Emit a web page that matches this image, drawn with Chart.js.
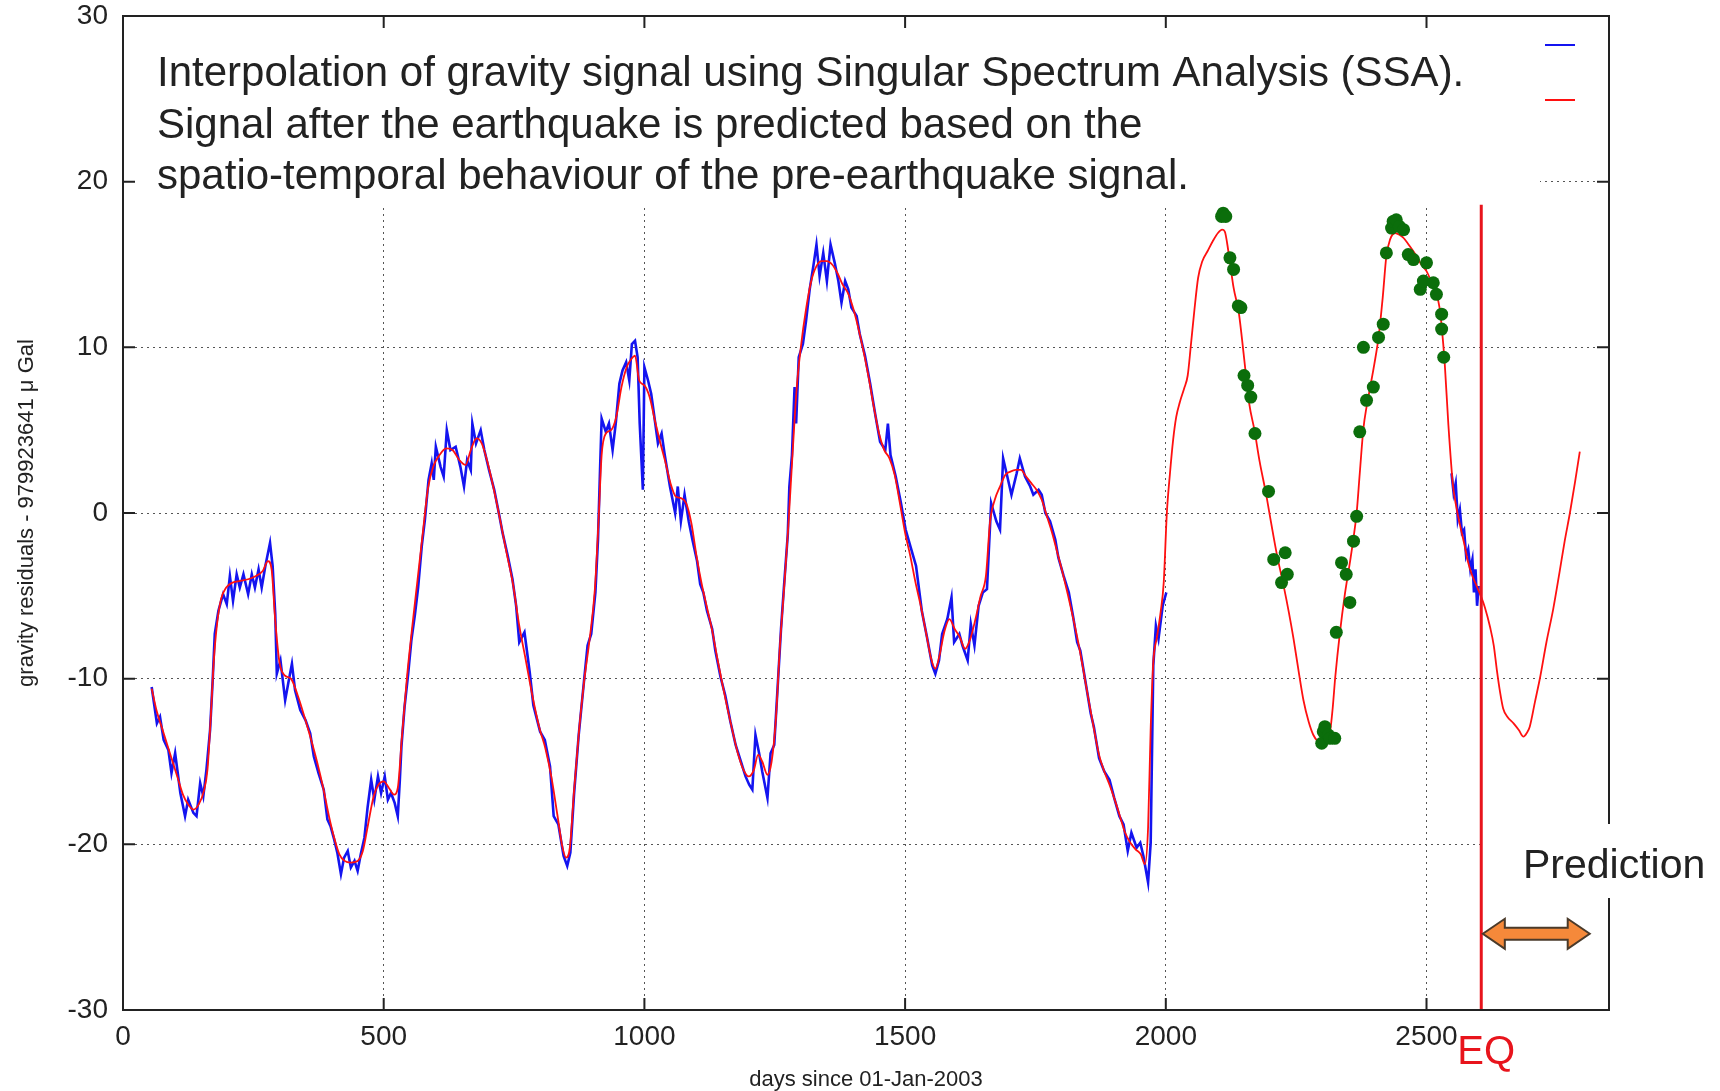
<!DOCTYPE html>
<html>
<head>
<meta charset="utf-8">
<script src="https://cdn.jsdelivr.net/npm/chart.js@4.4.1/dist/chart.umd.min.js"></script>
<style>
  html, body { margin: 0; padding: 0; background: #fff; }
  canvas { display: block; }
</style>
</head>
<body>
<canvas id="chart" width="1720" height="1091"></canvas>
<script>
const xTicks = [0, 500, 1000, 1500, 2000, 2500];
const yTicks = [-30, -20, -10, 0, 10, 20, 30];
// observed gravity residuals [day, value] (blue)
const gravityObs = [
	[55,-10.5],[65,-12.7],[71,-12.3],[78,-13.7],[87,-14.3],[93,-15.7],[100,-14.5],[110,-16.9],[119,-18.3],[125,-17.3],
	[135,-18.1],[141,-18.3],[148,-16.3],[154,-17.1],[160,-15.5],[167,-13.1],[172,-10.1],[176,-7.3],[183,-5.9],[192,-4.9],
	[199,-5.5],[205,-3.8],[211,-5.3],[218,-3.7],[224,-4.5],[231,-3.7],[240,-4.9],[247,-3.7],[253,-4.5],[260,-3.4],
	[266,-4.5],[273,-3.2],[282,-1.8],[287,-3.2],[292,-6.1],[295,-9.7],[302,-8.9],[311,-11.3],[318,-10.1],[324,-9.1],
	[330,-10.7],[340,-11.9],[350,-12.5],[359,-13.3],[366,-14.7],[375,-15.7],[385,-16.7],[392,-18.5],[398,-18.9],[405,-19.7],
	[411,-20.5],[418,-21.8],[424,-20.8],[431,-20.4],[437,-21.4],[444,-21.0],[450,-21.6],[456,-20.6],[463,-19.6],[469,-17.8],
	[476,-16.1],[482,-17.3],[489,-15.9],[495,-16.9],[502,-15.9],[508,-17.3],[514,-16.9],[521,-17.5],[527,-18.3],[531,-16.1],
	[534,-14.1],[540,-11.7],[547,-9.7],[553,-7.7],[560,-6.1],[566,-4.5],[573,-2.0],[579,-0.4],[586,2.0],[592,3.0],
	[596,2.0],[600,4.0],[609,2.8],[615,2.2],[621,5.0],[628,3.8],[638,4.0],[647,2.8],[654,1.6],[660,3.2],
	[667,2.6],[670,5.4],[677,4.2],[686,5.0],[693,3.8],[702,2.6],[712,1.4],[722,-0.2],[728,-1.2],[738,-2.6],
	[747,-4.0],[754,-5.6],[760,-7.8],[770,-7.2],[780,-9.6],[787,-11.6],[800,-13.2],[809,-13.7],[819,-15.3],[826,-18.3],
	[835,-18.8],[845,-20.7],[852,-21.3],[858,-20.5],[865,-17.0],[874,-13.4],[884,-10.2],[891,-8.0],[898,-7.3],[906,-4.8],
	[911,-1.6],[915,2.7],[918,5.7],[926,4.9],[932,5.4],[939,3.8],[945,5.4],[952,7.8],[958,8.6],[965,9.1],
	[971,8.0],[976,10.2],[982,10.4],[987,9.4],[991,5.4],[997,1.4],[1000,8.8],[1007,8.0],[1013,7.2],[1020,5.6],
	[1026,4.2],[1033,4.8],[1039,3.5],[1049,1.6],[1059,0.0],[1064,1.6],[1070,-0.5],[1077,1.1],[1085,-0.5],[1092,-1.6],
	[1101,-2.9],[1107,-4.3],[1113,-4.8],[1120,-5.9],[1130,-7.0],[1136,-8.3],[1146,-9.9],[1155,-11.0],[1165,-12.6],[1175,-14.0],
	[1185,-15.0],[1194,-15.9],[1201,-16.4],[1207,-16.7],[1213,-13.4],[1220,-14.5],[1226,-15.6],[1236,-17.2],[1242,-14.5],[1249,-14.0],
	[1255,-10.8],[1262,-7.0],[1268,-4.3],[1275,-1.3],[1278,1.6],[1283,3.5],[1288,7.6],[1291,5.4],[1296,9.4],[1304,10.2],
	[1310,11.6],[1317,13.5],[1324,14.9],[1330,16.2],[1336,14.3],[1343,15.7],[1350,14.0],[1357,16.2],[1365,15.1],[1372,14.0],
	[1378,12.7],[1385,14.0],[1391,13.5],[1397,12.4],[1407,11.9],[1413,10.8],[1423,9.5],[1433,7.8],[1443,5.9],[1452,4.3],
	[1462,3.8],[1467,5.4],[1472,3.5],[1482,2.2],[1492,0.6],[1501,-1.0],[1511,-2.1],[1521,-3.2],[1532,-5.9],[1542,-7.5],
	[1552,-9.2],[1558,-9.7],[1565,-8.9],[1571,-7.3],[1581,-6.4],[1589,-5.1],[1594,-7.8],[1604,-7.3],[1610,-8.0],[1620,-8.9],
	[1626,-6.7],[1633,-8.0],[1641,-5.6],[1649,-4.8],[1657,-4.6],[1665,0.6],[1675,-0.5],[1682,-1.0],[1688,3.3],[1696,2.2],
	[1704,1.1],[1714,2.4],[1720,3.3],[1730,2.2],[1740,1.6],[1746,1.1],[1756,1.4],[1762,1.1],[1769,0.0],[1778,-0.5],
	[1788,-1.6],[1794,-2.7],[1804,-3.8],[1814,-4.8],[1823,-6.4],[1830,-7.8],[1836,-8.3],[1846,-10.2],[1856,-12.1],[1862,-12.9],
	[1872,-14.8],[1882,-15.6],[1892,-16.1],[1901,-17.2],[1911,-18.3],[1919,-18.8],[1927,-20.4],[1934,-19.3],[1944,-20.2],[1951,-19.9],
	[1957,-20.7],[1966,-22.3],[1971,-19.9],[1976,-9.2],[1981,-6.8],[1986,-7.6],[1994,-5.6],[2001,-4.8]
];
// short observed stretch just before the earthquake
const gravityObsEq = [
	[2548,2.4],[2552,1.2],[2556,1.8],[2560,-0.4],[2564,0.2],[2568,-1.2],[2572,-1.0],[2576,-2.6],
	[2580,-2.2],[2584,-3.4],[2588,-2.8],[2591,-4.8],[2594,-3.4],[2597,-5.6],[2600,-4.4]
];
// SSA reconstruction / prediction (red)
const ssaCurve = [
	[55,-10.6],[65,-12.0],[75,-13.0],[85,-14.0],[95,-15.0],[105,-16.0],[115,-17.0],[125,-17.6],[135,-17.9],[145,-17.6],
	[155,-16.8],[162,-15.5],[168,-12.5],[174,-9.0],[180,-6.8],[188,-5.2],[198,-4.5],[210,-4.2],[225,-4.1],[240,-4.0],
	[255,-3.8],[268,-3.5],[278,-2.9],[285,-3.4],[292,-6.5],[300,-9.0],[310,-9.8],[322,-10.0],[335,-11.0],[348,-12.3],
	[360,-13.6],[372,-15.0],[384,-16.6],[395,-18.3],[405,-19.6],[415,-20.6],[425,-21.0],[437,-21.1],[450,-21.0],[460,-20.4],
	[470,-18.8],[480,-17.2],[490,-16.4],[500,-16.2],[510,-16.6],[520,-17.0],[527,-16.6],[535,-13.5],[545,-9.8],[555,-6.8],
	[565,-4.0],[575,-1.2],[585,1.5],[595,2.8],[607,3.5],[620,3.9],[632,3.8],[645,3.2],[657,2.9],[667,3.8],
	[678,4.5],[688,4.2],[698,3.2],[710,1.6],[722,-0.2],[735,-2.3],[748,-4.3],[760,-6.8],[772,-8.8],[785,-11.0],
	[798,-12.9],[810,-14.2],[822,-16.0],[833,-18.2],[843,-20.2],[850,-20.8],[857,-20.2],[865,-16.8],[875,-13.0],[885,-10.0],
	[895,-7.6],[905,-4.6],[912,-0.5],[918,3.5],[926,4.8],[936,5.0],[946,5.8],[956,7.6],[966,8.8],[975,9.3],
	[982,9.5],[990,8.0],[1000,7.7],[1010,7.0],[1020,5.6],[1030,4.3],[1040,3.1],[1050,1.8],[1060,1.0],[1070,0.9],
	[1080,0.6],[1090,-0.6],[1100,-2.6],[1110,-4.3],[1120,-5.7],[1130,-7.1],[1140,-8.8],[1150,-10.4],[1160,-11.9],[1170,-13.3],
	[1180,-14.6],[1190,-15.5],[1200,-15.9],[1210,-15.5],[1218,-14.6],[1226,-15.0],[1236,-15.8],[1244,-15.0],[1252,-12.5],[1260,-8.0],
	[1268,-4.5],[1276,-0.8],[1284,3.5],[1292,7.5],[1300,10.0],[1310,12.3],[1320,14.0],[1330,14.9],[1340,15.2],[1350,15.2],
	[1360,15.0],[1370,14.5],[1380,13.8],[1390,13.3],[1400,12.4],[1410,11.2],[1420,9.8],[1430,8.2],[1440,6.4],[1450,4.8],
	[1460,3.8],[1470,3.3],[1480,2.3],[1490,0.6],[1500,-1.2],[1510,-2.6],[1520,-4.2],[1530,-5.6],[1540,-7.2],[1550,-8.8],
	[1558,-9.4],[1566,-8.6],[1575,-7.2],[1585,-6.4],[1595,-7.0],[1605,-7.5],[1615,-8.2],[1625,-7.6],[1635,-6.4],[1645,-5.0],
	[1655,-3.8],[1663,-0.5],[1672,0.8],[1682,1.6],[1692,2.3],[1702,2.5],[1712,2.6],[1722,2.6],[1732,2.2],[1742,1.8],
	[1752,1.4],[1762,0.8],[1772,-0.2],[1782,-1.2],[1792,-2.4],[1802,-3.6],[1812,-4.9],[1822,-6.3],[1832,-7.8],[1842,-9.5],
	[1852,-11.3],[1862,-13.0],[1872,-14.6],[1882,-15.6],[1892,-16.4],[1902,-17.3],[1912,-18.3],[1922,-19.3],[1932,-19.9],[1942,-20.3],
	[1952,-20.6],[1960,-21.2],[1966,-19.0],[1971,-13.0],[1976,-9.0],[1983,-7.5],[1990,-6.0],[1996,-4.2],[2002,0.0],[2008,2.4],
	[2014,4.4],[2020,5.8],[2027,6.7],[2035,7.5],[2042,8.3],[2048,10.1],[2055,12.3],[2062,14.2],[2070,15.2],[2080,15.8],
	[2090,16.4],[2100,16.9],[2108,17.1],[2113,17.0],[2120,15.8],[2130,13.6],[2140,12.1],[2150,9.4],[2160,6.6],[2170,5.0],
	[2180,3.1],[2192,1.2],[2202,-0.6],[2213,-2.5],[2226,-4.4],[2236,-6.0],[2245,-7.6],[2255,-9.6],[2264,-11.3],[2274,-12.6],
	[2283,-13.4],[2292,-13.8],[2299,-13.9],[2308,-13.6],[2315,-13.2],[2320,-11.8],[2325,-9.9],[2334,-7.2],[2343,-5.0],[2353,-3.0],
	[2360,-1.5],[2366,0.0],[2372,2.4],[2379,5.1],[2385,6.4],[2392,7.6],[2400,9.0],[2408,10.6],[2416,13.0],[2423,15.5],
	[2430,16.5],[2440,16.9],[2448,16.8],[2456,16.6],[2468,16.1],[2481,15.5],[2490,15.0],[2500,14.6],[2510,13.9],[2519,13.2],
	[2525,12.4],[2529,11.3],[2535,9.0],[2542,5.3],[2551,1.6],[2557,0.4],[2564,-0.7],[2572,-1.8],[2580,-3.0],[2588,-3.8],
	[2596,-4.4],[2604,-5.0],[2612,-5.7],[2622,-6.9],[2629,-8.0],[2635,-9.5],[2641,-10.8],[2647,-11.8],[2655,-12.3],[2667,-12.7],
	[2677,-13.1],[2686,-13.5],[2692,-13.3],[2698,-12.9],[2708,-11.4],[2718,-9.9],[2730,-7.8],[2743,-5.8],[2755,-3.6],[2765,-1.7],
	[2775,0.0],[2785,1.9],[2794,3.7]
];
// interpolated values inside the data gap (green dots)
const gapPoints = [
	[2107,17.9],[2110,18.1],[2115,17.9],[2123,15.4],[2130,14.7],[2139,12.5],[2144,12.4],[2150,8.3],[2157,7.7],[2163,7.0],
	[2171,4.8],[2197,1.3],[2207,-2.8],[2222,-4.2],[2229,-2.4],[2233,-3.7],[2299,-13.9],[2302,-13.2],[2305,-12.9],[2312,-13.4],
	[2315,-13.6],[2324,-13.6],[2327,-7.2],[2337,-3.0],[2346,-3.7],[2353,-5.4],[2360,-1.7],[2366,-0.2],[2372,4.9],[2379,10.0],
	[2385,6.8],[2398,7.6],[2408,10.6],[2417,11.4],[2423,15.7],[2433,17.2],[2436,17.6],[2442,17.7],[2448,17.3],[2456,17.1],
	[2465,15.6],[2475,15.3],[2488,13.5],[2494,14.0],[2500,15.1],[2513,13.9],[2519,13.2],[2529,12.0],[2529,11.1],[2533,9.4]
];
const eqDay = 2605;
const eqTop = 18.6;
const arrowFrom = 2608, arrowTo = 2813, arrowLevel = -25.4;
const noteLines = [
	'Interpolation of gravity signal using Singular Spectrum Analysis (SSA).',
	'Signal after the earthquake is predicted based on the',
	'spatio-temporal behaviour of the pre-earthquake signal.'
];

const FONT = '"Liberation Sans", Arial, sans-serif';
const BLUE = '#1414f0', RED = '#ff1010', EQRED = '#e8141c', GREEN = '#0b6e0b', INK = '#222';
Chart.defaults.font.family = FONT;

function toXY(list) {
	return list.map(p => ({x: p[0], y: p[1]}));
}

// text box, key samples, gnuplot style frame, arrow and labels
const decor = {
	id: 'decor',
	beforeDatasetsDraw(chart) {
		const {ctx, chartArea: a} = chart;
		ctx.save();
		// the description box hides the grid behind it
		ctx.fillStyle = '#fff';
		ctx.fillRect(a.left, a.top, 1417, 189);
		ctx.fillStyle = INK;
		ctx.font = '42px ' + FONT;
		ctx.textBaseline = 'alphabetic';
		noteLines.forEach((t, i) => ctx.fillText(t, a.left + 34, a.top + 70 + i * 51.5));
		// key samples (labels are blank in the original)
		ctx.lineWidth = 2;
		ctx.strokeStyle = BLUE;
		ctx.beginPath(); ctx.moveTo(a.left + 1422, a.top + 29); ctx.lineTo(a.left + 1452, a.top + 29); ctx.stroke();
		ctx.strokeStyle = RED;
		ctx.beginPath(); ctx.moveTo(a.left + 1422, a.top + 84); ctx.lineTo(a.left + 1452, a.top + 84); ctx.stroke();
		ctx.restore();
	},
	afterDatasetsDraw(chart) {
		const {ctx, chartArea: a, scales: {x, y}} = chart;
		ctx.save();
		ctx.strokeStyle = INK;
		ctx.lineWidth = 2;
		ctx.strokeRect(a.left, a.top, a.right - a.left, a.bottom - a.top);
		// inward tick marks on all four sides
		ctx.beginPath();
		x.ticks.forEach(t => {
			const px = x.getPixelForValue(t.value);
			if(px <= a.left + 1)
				return;
			ctx.moveTo(px, a.bottom); ctx.lineTo(px, a.bottom - 12);
			ctx.moveTo(px, a.top); ctx.lineTo(px, a.top + 12);
		});
		y.ticks.forEach(t => {
			const py = y.getPixelForValue(t.value);
			if(py <= a.top + 1 || py >= a.bottom - 1)
				return;
			ctx.moveTo(a.left, py); ctx.lineTo(a.left + 12, py);
			ctx.moveTo(a.right, py); ctx.lineTo(a.right - 12, py);
		});
		ctx.stroke();

		// prediction arrow
		const x1 = x.getPixelForValue(arrowFrom), x2 = x.getPixelForValue(arrowTo);
		const yc = y.getPixelForValue(arrowLevel);
		const hl = 22, hh = 15, sh = 6;
		ctx.beginPath();
		ctx.moveTo(x1, yc);
		ctx.lineTo(x1 + hl, yc - hh);
		ctx.lineTo(x1 + hl, yc - sh);
		ctx.lineTo(x2 - hl, yc - sh);
		ctx.lineTo(x2 - hl, yc - hh);
		ctx.lineTo(x2, yc);
		ctx.lineTo(x2 - hl, yc + hh);
		ctx.lineTo(x2 - hl, yc + sh);
		ctx.lineTo(x1 + hl, yc + sh);
		ctx.lineTo(x1 + hl, yc + hh);
		ctx.closePath();
		ctx.fillStyle = '#f5893a';
		ctx.fill();
		ctx.strokeStyle = '#4a3a2a';
		ctx.lineWidth = 2;
		ctx.stroke();

		// "Prediction" label breaks the right border
		const eqPx = x.getPixelForValue(eqDay);
		ctx.fillStyle = '#fff';
		ctx.fillRect(eqPx + 3, a.bottom - 186, 1720 - eqPx, 74);
		ctx.fillStyle = INK;
		ctx.font = '41px ' + FONT;
		ctx.textBaseline = 'alphabetic';
		ctx.fillText('Prediction', a.right - 86, a.bottom - 132);

		// EQ label under the axis
		ctx.fillStyle = EQRED;
		ctx.font = '40px ' + FONT;
		ctx.fillText('EQ', eqPx - 24, a.bottom + 54);
		ctx.restore();
	}
};

const gridOpts = { color: '#555', lineWidth: 1, drawTicks: false };

new Chart(document.getElementById('chart'), {
	type: 'scatter',
	data: {
		datasets: [
			{
				label: 'EQ',
				data: [{x: eqDay, y: -30}, {x: eqDay, y: eqTop}],
				showLine: true,
				borderColor: EQRED,
				borderWidth: 3,
				pointRadius: 0
			},
			{
				label: 'Interpolated',
				data: toXY(gapPoints),
				backgroundColor: GREEN,
				borderColor: GREEN,
				borderWidth: 0,
				pointRadius: 6.5
			},
			{
				label: 'SSA',
				data: toXY(ssaCurve),
				showLine: true,
				borderColor: RED,
				borderWidth: 1.8,
				pointRadius: 0,
				cubicInterpolationMode: 'monotone'
			},
			{
				label: 'Observed',
				data: toXY(gravityObs).concat([{x: 2300, y: null}], toXY(gravityObsEq)),
				showLine: true,
				spanGaps: false,
				borderColor: BLUE,
				borderWidth: 2.6,
				pointRadius: 0,
				lineTension: 0
			}
		]
	},
	options: {
		animation: false,
		responsive: false,
		devicePixelRatio: 1,
		layout: { padding: { top: 16, right: 111, left: 0, bottom: 0 } },
		plugins: {
			legend: { display: false },
			tooltip: { enabled: false }
		},
		scales: {
			x: {
				type: 'linear',
				min: 0,
				max: 2850,
				afterFit: s => { s.height = 81; s.paddingLeft = 0; s.paddingRight = 0; },
				afterBuildTicks: s => { s.ticks = xTicks.map(v => ({value: v})); },
				ticks: {
					autoSkip: false,
					maxRotation: 0,
					padding: 10,
					color: INK,
					font: { size: 28 },
					callback: v => String(v)
				},
				grid: gridOpts,
				border: { display: false, dash: [2, 4] },
				title: {
					display: true,
					text: 'days since 01-Jan-2003',
					color: INK,
					font: { size: 22 },
					padding: { top: 0, bottom: -2 }
				}
			},
			y: {
				min: -30,
				max: 30,
				afterFit: s => { s.width = 123; s.paddingTop = 0; s.paddingBottom = 0; },
				afterBuildTicks: s => { s.ticks = yTicks.map(v => ({value: v})); },
				ticks: {
					autoSkip: false,
					padding: 15,
					color: INK,
					font: { size: 28 }
				},
				grid: gridOpts,
				border: { display: false, dash: [2, 4] },
				title: {
					display: true,
					text: 'gravity residuals - 979923641 \u03bc Gal',
					color: INK,
					font: { size: 22 },
					padding: { top: 14, bottom: 0 }
				}
			}
		}
	},
	plugins: [decor]
});
</script>
</body>
</html>
